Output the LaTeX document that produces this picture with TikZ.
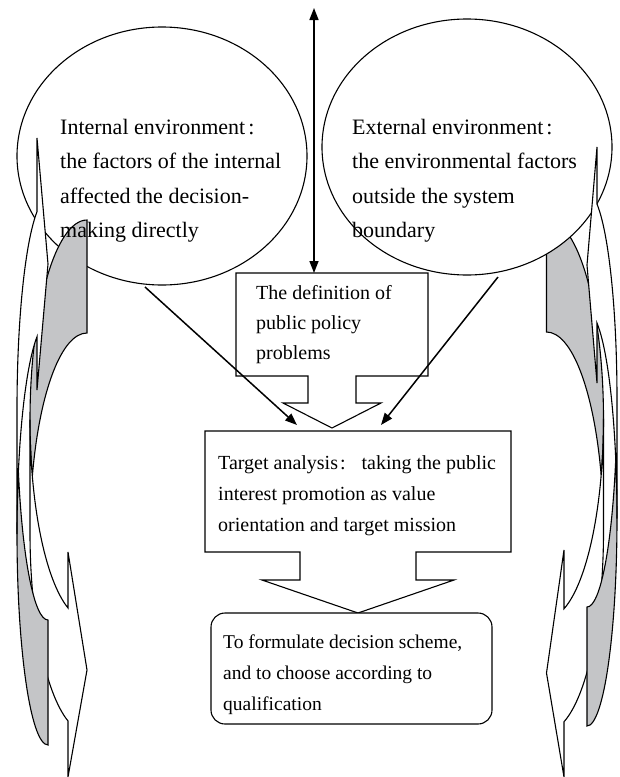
\documentclass[tikz,border=0pt]{standalone}
\usepackage{fontspec}
\setmainfont{Liberation Serif}
\usetikzlibrary{arrows.meta,shapes.geometric}
\definecolor{bandgray}{RGB}{196,197,199}
% back (darker) part of an Office-like curved arrow: r, top, thickness, x-radius, y-radius
\newcommand{\cvback}[5]{%
  \pgfmathsetmacro{\cvB}{asin(#3/(2*#5))}%
  \filldraw[bandback] (#1,#2+#3) arc[start angle=270, end angle={180+\cvB}, x radius=#4, y radius=#5]
     arc[start angle={180-\cvB}, end angle=270, x radius=#4, y radius=#5] -- cycle;}
% front part with head: r, top, thickness, x-radius, y-radius, x1, barb1, barb2, tip
\newcommand{\cvfront}[9]{%
  \pgfmathsetmacro{\cvA}{acos((#1-#6)/#4)}%
  \pgfmathsetmacro{\cvY}{#2+#3+#5+#5*sin(\cvA)}%
  \filldraw[bandfront] (#1-#4,#2+#5) arc[start angle=180, end angle={180-\cvA}, x radius=#4, y radius=#5]
     -- (#6,#7) -- (#1,#9) -- (#6,#8) -- (#6,\cvY)
     arc[start angle={180-\cvA}, end angle=180, x radius=#4, y radius=#5] -- cycle;}
\begin{document}
\begin{tikzpicture}[x=1pt,y=-1pt,
  bandback/.style={fill=bandgray, draw=black, line width=1.1pt},
  bandfront/.style={fill=white, draw=black, line width=1.1pt},
  shapeline/.style={draw=black, line width=1.1pt, fill=white},
  etxt/.style={anchor=base west, align=left, inner sep=0pt, font=\fontsize{22}{34.5}\selectfont},
  btxt/.style={anchor=base west, align=left, inner sep=0pt, font=\fontsize{20}{31}\selectfont},
  tip/.style={-{Triangle[length=12pt,width=9pt]}, line width=1.5pt},
  dbl/.style={{Triangle[length=12pt,width=9pt]}-{Triangle[length=12pt,width=9pt]}, line width=1.5pt}]
\useasboundingbox (0,0) rectangle (619,777);

% ---------- left side ----------
\node[ellipse, shapeline, minimum width=290pt, minimum height=258pt, inner sep=0pt] (ellL) at (162,156) {};
\cvback{87}{220}{113}{57}{199.7}
\cvfront{87}{220}{113}{57}{199.7}{68}{552}{777}{670}
\begin{scope}[shift={(0,845)}, yscale=-1]
  \cvback{48}{100}{125}{31}{211}
  \cvfront{48}{100}{125}{31}{211}{37}{455}{707}{581}
\end{scope}

% ---------- right side ----------
\begin{scope}[shift={(634,0)}, xscale=-1]
  \cvback{87.5}{219}{113}{57}{199.7}
  \cvfront{87.5}{219}{113}{57}{199.7}{70}{550}{777}{673}
\end{scope}
\node[ellipse, shapeline, minimum width=290pt, minimum height=256pt, inner sep=0pt] (ellR) at (467,147) {};
\begin{scope}[shift={(634,826)}, xscale=-1, yscale=-1]
  \cvback{47}{100}{119}{30}{207.4}
  \cvfront{47}{100}{119}{30}{207.4}{37}{443}{679}{561}
\end{scope}

% ---------- ellipse texts (anchor = baseline of last line) ----------
\node[etxt] (tIn) at (60,237.5) {Internal environment\kern3pt:\\the factors of the internal\\affected the decision-\\making directly};
\node[etxt] (tEx) at (352,237.5) {External environment\kern3pt:\\the environmental factors\\outside the system\\boundary};

% ---------- boxes ----------
\draw[shapeline] (236,273) -- (428,273) -- (428,376) -- (356,376) -- (356,403) -- (381,403)
   -- (332,428) -- (283,403) -- (308,403) -- (308,376) -- (236,376) -- cycle;
\coordinate (defTop) at (314,273);
\node[btxt, font=\fontsize{20}{30}\selectfont] (tDef) at (256,359) {The definition of\\public policy\\problems};

\draw[shapeline] (205,431) -- (511,431) -- (511,552) -- (416,552) -- (416,580) -- (454,580)
   -- (358,613) -- (262,580) -- (300,580) -- (300,552) -- (205,552) -- cycle;
\coordinate (tgtL) at (297,425);
\coordinate (tgtR) at (381,425);
\node[btxt] (tTgt) at (218,531) {Target analysis\kern2pt:\hspace{0.8em}taking the public\\interest promotion as value\\orientation and target mission};

\draw[shapeline, rounded corners=14pt] (211,613) rectangle (492,724);
\node[btxt, font=\fontsize{19.5}{31}\selectfont] (tForm) at (223,710) {To formulate decision scheme,\\and to choose according to\\qualification};

% ---------- connectors ----------
\coordinate (vTop) at (314,8);
\draw[dbl] (vTop) -- (defTop);
\coordinate (dLs) at (145,287);
\coordinate (dRs) at (498,277);
\draw[tip] (dLs) -- (tgtL);
\draw[tip] (dRs) -- (tgtR);
\end{tikzpicture}
\end{document}
